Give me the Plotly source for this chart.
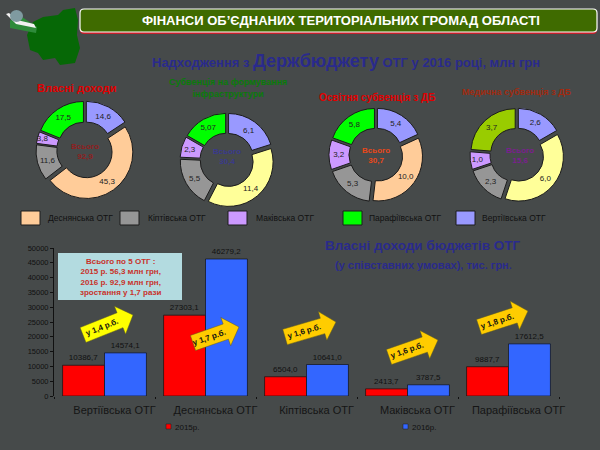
import math
import plotly.graph_objects as pgo

otg_pie = ["Вертіївська ОТГ", "Деснянська ОТГ", "Кіптівська ОТГ", "Маківська ОТГ", "Парафіївська ОТГ"]
own_income = [14.6, 45.3, 11.6, 3.8, 17.5]
infra_subv = [6.1, 11.4, 5.5, 2.3, 5.07]
edu_subv = [5.4, 10.0, 5.3, 3.2, 5.8]
med_subv = [2.6, 6.0, 2.3, 1.0, 3.7]

otg_bars = ["Вертіївська ОТГ", "Деснянська ОТГ", "Кіптівська ОТГ", "Маківська ОТГ", "Парафіївська ОТГ"]
income_2015 = [10386.7, 27303.1, 6504.0, 2413.7, 9887.7]
income_2016 = [14574.1, 46279.2, 10641.0, 3787.5, 17612.5]
y_ticks = [0, 5000, 10000, 15000, 20000, 25000, 30000, 35000, 40000, 45000, 50000]

BG = "#464a4a"
FONT = "Liberation Sans"
DARK_BLUE = "#2a2a8c"


def px(x):
    return x / 600


def py(y):
    return 1 - y / 450


def comma(values, fmt):
    return [fmt.format(v).replace(".", ",") for v in values]


def path(points):
    return "M" + "L".join("{:.4f},{:.4f}".format(px(x), py(y)) for x, y in points) + "Z"


fig = pgo.Figure()

# bars
fig.add_trace(pgo.Bar(x=otg_bars, y=income_2015, name="2015р.", marker=dict(color="#ff0000", line=dict(color="#111111", width=0.7)),
                      text=comma(income_2015, "{:.1f}"), textposition="outside", cliponaxis=False,
                      textfont=dict(size=8, color="#111111", family=FONT), showlegend=False))
fig.add_trace(pgo.Bar(x=otg_bars, y=income_2016, name="2016р.", marker=dict(color="#3366ff", line=dict(color="#111111", width=0.7)),
                      text=comma(income_2016, "{:.1f}"), textposition="outside", cliponaxis=False,
                      textfont=dict(size=8, color="#111111", family=FONT), showlegend=False))

# donuts
pies = [
    (own_income, 85, 150, 49, ["#9999ff", "#ffcc99", "#969696", "#cc99ff", "#00ff00"], "{:.1f}"),
    (infra_subv, 227, 160, 47, ["#9999ff", "#ffff99", "#969696", "#cc99ff", "#00ff00"], "{:g}"),
    (edu_subv, 376, 155, 47, ["#9999ff", "#ffcc99", "#969696", "#cc99ff", "#00ff00"], "{:.1f}"),
    (med_subv, 517, 155, 47, ["#9999ff", "#ffff99", "#969696", "#cc99ff", "#99cc00"], "{:.1f}"),
]
for vals, cx, cy, r, cols, fmt in pies:
    fig.add_trace(pgo.Pie(labels=otg_pie, values=vals, sort=False, direction="clockwise", rotation=0, hole=0.55,
                          pull=0.06, text=comma(vals, fmt), textinfo="text", textposition="inside",
                          insidetextorientation="horizontal", textfont=dict(size=8, color="#222222", family=FONT),
                          marker=dict(colors=cols, line=dict(color="#1c1c1c", width=1)),
                          domain=dict(x=[px(cx - r), px(cx + r)], y=[py(cy + r), py(cy - r)]), showlegend=False))

shapes = []
annots = []


def label(x, y, text, size=8, color="#111111", bold=False, angle=0, anchor="center"):
    if bold:
        text = "<b>" + text.replace("<br>", "</b><br><b>") + "</b>"
    annots.append(dict(x=px(x), y=py(y), xref="paper", yref="paper", text=text, showarrow=False, xanchor=anchor,
                       yanchor="middle", textangle=angle, font=dict(size=size, color=color, family=FONT)))


def rounded(x0, y0, x1, y1, r):
    return ("M{a},{b}L{c},{b}Q{d},{b} {d},{e}L{d},{f}Q{d},{g} {c},{g}L{a},{g}Q{h},{g} {h},{f}L{h},{e}Q{h},{b} {a},{b}Z"
            .format(a=px(x0 + r), b=py(y0), c=px(x1 - r), d=px(x1), e=py(y0 + r), f=py(y1 - r), g=py(y1), h=px(x0)))


# logo: map and flag
region = [(33, 22), (43, 17), (58, 15), (63, 10), (75, 8), (78, 20), (77, 35), (80, 48), (75, 63), (60, 65), (55, 58),
          (43, 60), (38, 53), (30, 50), (27, 35)]
shapes.append(dict(type="path", path=path(region), xref="paper", yref="paper", fillcolor="#066806", line=dict(width=0), layer="above"))
shapes.append(dict(type="path", path=path([(10, 21), (16, 13), (37, 27), (36, 33), (10, 28)]), xref="paper", yref="paper",
                   fillcolor="#2e8b3a", line=dict(width=0), layer="above"))
shapes.append(dict(type="path", path=path([(6, 14), (9, 13), (17, 20), (34, 24), (36, 28), (16, 24)]), xref="paper", yref="paper",
                   fillcolor="#f2f2f2", line=dict(width=0), layer="above"))
shapes.append(dict(type="circle", x0=px(10), x1=px(23), y0=py(22), y1=py(10), xref="paper", yref="paper",
                   fillcolor="#7f9aa0", line=dict(width=0), layer="above"))

# header band
shapes.append(dict(type="path", path=rounded(80, 11, 597, 34, 4), xref="paper", yref="paper", fillcolor="#c8202a", line=dict(width=0)))
shapes.append(dict(type="path", path=rounded(80, 9, 597, 32, 4), xref="paper", yref="paper", fillcolor="#3f6b00",
                   line=dict(color="#ffffff", width=1.2)))
label(341, 21, "ФІНАНСИ ОБ’ЄДНАНИХ ТЕРИТОРІАЛЬНИХ ГРОМАД ОБЛАСТІ", size=13, color="#ffffff", bold=True)

label(346, 61, '<b>Надходження з <span style="font-size:18px">Держбюджету</span> ОТГ у 2016 році, млн грн</b>', size=13, color=DARK_BLUE)

# donut titles and centres
label(77, 88, "Власні доходи", size=11, color="#e00000", bold=True)
label(228, 88, "Субвенція на формування<br>інфраструктури", size=9, color="#0a7a0a", bold=True)
label(377, 98, "Освітня субвенція з ДБ", size=10, color="#e00000", bold=True)
label(517, 92, "Медична субвенція з ДБ", size=9, color="#a02a10", bold=True)
label(85, 152, "Всього<br>92,9", size=8, color="#8f1f1f", bold=True)
label(227, 156, "Всього<br>30,4", size=8, color="#3a3a8c", bold=True)
label(376, 155, "Всього<br>30,7", size=8, color="#e8481a", bold=True)
label(520, 155, "Всього<br>15,6", size=8, color="#7b1f8f", bold=True)

# donut legend
legend_x = [(21, 46), (120, 146), (228, 254), (343, 367), (456, 480)]
legend_cols = ["#ffcc99", "#969696", "#cc99ff", "#00ff00", "#9999ff"]
legend_names = ["Деснянська ОТГ", "Кіптівська ОТГ", "Маківська ОТГ", "Парафіївська ОТГ", "Вертіївська ОТГ"]
for (sx, tx), col, name in zip(legend_x, legend_cols, legend_names):
    shapes.append(dict(type="rect", x0=px(sx), x1=px(sx + 19), y0=py(225), y1=py(211), xref="paper", yref="paper",
                       fillcolor=col, line=dict(color="#1c1c1c", width=1)))
    label(tx, 218, name, size=8.5, color="#111111", anchor="left")

# bar titles and legend
label(422, 246, "Власні доходи бюджетів ОТГ", size=13.5, color=DARK_BLUE, bold=True)
label(423, 265, "(у співставних умовах), тис. грн.", size=11, color=DARK_BLUE, bold=True)
for sx, col, name in [(166, "#ff0000", "2015р."), (403, "#3366ff", "2016р.")]:
    shapes.append(dict(type="rect", x0=px(sx), x1=px(sx + 5), y0=py(429), y1=py(424), xref="paper", yref="paper",
                       fillcolor=col, line=dict(color="#1c1c1c", width=0.5)))
    label(sx + 7, 427, name, size=8, color="#111111", anchor="left")

# info box
shapes.append(dict(type="rect", x0=px(58), x1=px(182), y0=py(300), y1=py(253), xref="paper", yref="paper", fillcolor="#b3dbe0",
                   line=dict(width=0), layer="above"))
label(120, 277, "Всього по 5 ОТГ :<br>2015 р. 56,3 млн грн,<br>2016 р. 92,9 млн грн,<br>зростання у 1,7 рази", size=8, color="#c8322a", bold=True)

# growth arrows
arrows = [(83, 335, 133, 315, "#ffff00", "у 1,4 р.б."), (193, 343, 239, 327, "#ffcc00", "у 1,7 р.б."),
          (285, 337, 336, 322, "#ffcc00", "у 1,6 р.б."), (389, 357, 438, 340, "#ffcc00", "у 1,6 р.б."),
          (479, 327, 528, 311, "#ffcc00", "у 1,8 р.б.")]
for x0, y0, x1, y1, col, txt in arrows:
    a = math.atan2(y1 - y0, x1 - x0)
    ln = math.hypot(x1 - x0, y1 - y0)
    outline = [(0, -8), (ln - 14, -8), (ln - 14, -15), (ln, 0), (ln - 14, 15), (ln - 14, 8), (0, 8)]
    pts = [(x0 + u * math.cos(a) - v * math.sin(a), y0 + u * math.sin(a) + v * math.cos(a)) for u, v in outline]
    shapes.append(dict(type="path", path=path(pts), xref="paper", yref="paper", fillcolor=col, line=dict(color="#5a5a20", width=0.5), layer="above"))
    label(x0 + (ln - 14) / 2 * math.cos(a), y0 + (ln - 14) / 2 * math.sin(a), txt, size=8, color="#111111", bold=True, angle=math.degrees(a))

fig.update_layout(
    width=600, height=450, margin=dict(l=0, r=0, t=0, b=0), autosize=False,
    paper_bgcolor=BG, plot_bgcolor=BG, barmode="group", bargap=0.17, bargroupgap=0,
    font=dict(family=FONT), uniformtext=dict(minsize=8, mode="show"),
    xaxis=dict(domain=[px(54), px(559)], showgrid=False, showline=False, zeroline=False, ticks="outside", ticklen=2, tickcolor="#111111",
               tickson="boundaries", tickangle=0, automargin=False, ticklabelstandoff=6, ticklabelshift=10,
               tickfont=dict(size=11, color="#151515", family=FONT)),
    yaxis=dict(domain=[py(396), py(248)], range=[0, 50000], tickvals=y_ticks, ticktext=[str(t) for t in y_ticks], showgrid=False,
               zeroline=False, showline=True, linecolor="#111111", linewidth=1, ticks="outside", ticklen=3, tickcolor="#111111",
               automargin=False, tickfont=dict(size=7.5, color="#111111", family=FONT)),
    shapes=shapes, annotations=annots,
)

fig.write_html("out.html", config=dict(displayModeBar=False), post_script="document.body.style.margin='0';")
